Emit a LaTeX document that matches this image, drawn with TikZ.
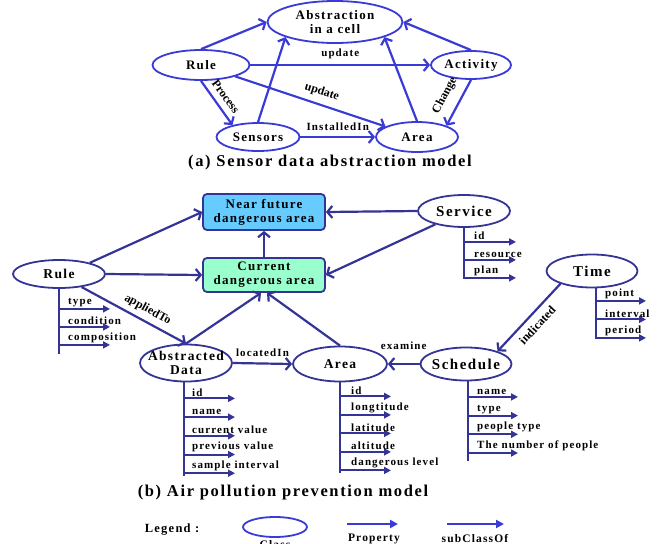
\documentclass[tikz,border=0pt]{standalone}
\usepackage{fontspec}
\setmainfont{Liberation Serif}[LetterSpace=10]
\newfontfamily\slopefont{Liberation Serif}
\usetikzlibrary{shapes.geometric,arrows.meta,calc,positioning}
\definecolor{topblue}{RGB}{58,58,214}
\definecolor{navy}{RGB}{52,52,150}
\definecolor{nearfill}{RGB}{102,204,255}
\definecolor{curfill}{RGB}{153,255,204}
\begin{document}
\begin{tikzpicture}[x = 1pt, y = -1pt,
        every node/.style = {
            font = \bfseries
        },
        clsa/.style = {
            ellipse,
            draw = topblue,
            line width = 1.8pt,
            inner sep = 0pt,
            align = center,
            font = \bfseries\fontsize{13}{14}\selectfont
        },
        cls/.style = {
            ellipse,
            draw = navy,
            line width = 1.8pt,
            inner sep = 0pt,
            align = center,
            font = \bfseries\fontsize{13.5}{14}\selectfont
        },
        big/.style = {
            font = \bfseries\fontsize{15}{16}\selectfont
        },
        zone/.style = {
            draw = navy,
            fill = #1,
            line width = 1.8pt,
            rounded corners = 4pt,
            minimum width = 122pt,
            minimum height = 36pt,
            align = center,
            font = \bfseries\fontsize{13}{14}\selectfont
        },
        rela/.style = {draw = topblue, line width = 2.2pt, -{Straight Barb[length = 5pt, width = 12pt]}},
        rel/.style = {draw = navy, line width = 2.2pt, -{Straight Barb[length = 5pt, width = 12pt]}},
        prop/.style = {draw = navy, line width = 2pt, -{Triangle[length = 7pt, width = 7pt]}},
        propa/.style = {draw = topblue, line width = 2.2pt, -{Triangle[length = 8pt, width = 8pt]}},
        spine/.style = {draw = navy, line width = 2pt},
        elabel/.style = {font = \bfseries\fontsize{11}{12}\selectfont, inner sep = 1pt},
        slabel/.style = {font = \slopefont\bfseries\fontsize{12}{13}\selectfont, inner sep = 1pt, sloped},
        plabel/.style = {font = \bfseries\fontsize{11}{12}\selectfont, inner sep = 1pt, anchor = south west},
        caption/.style = {font = \bfseries\fontsize{16.5}{18}\selectfont}
    ]
    \useasboundingbox (0, 0) rectangle (657, 544);

    % (a) sensor data abstraction
    \node[clsa, minimum width = 135pt, minimum height = 42pt] (cell) at (335, 22) {Abstraction\\in a cell};
    \node[clsa, minimum width = 97pt, minimum height = 30pt] (rulea) at (201, 65) {Rule};
    \node[clsa, minimum width = 80pt, minimum height = 28pt] (activity) at (471, 65) {Activity};
    \node[clsa, minimum width = 83pt, minimum height = 28pt] (sensors) at (258, 137) {Sensors};
    \node[clsa, minimum width = 82pt, minimum height = 30pt] (areaa) at (417, 137) {Area};
    \node[caption] (capa) at (330, 163) {(a) Sensor data abstraction model};

    \draw[rela] (rulea.north) -- (cell.west);
    \draw[rela] (rulea.east) -- node[elabel, above = 4pt] (upda) {update} (activity.west);
    \draw[rela] (rulea) -- node[slabel, above = 5pt, pos = 0.55] (updb) {update} (areaa);
    \draw[rela] (rulea.south) -- node[slabel, above = 5pt] (proc) {Process} (sensors.155);
    \draw[rela] (sensors.north) -- (cell.197);
    \draw[rela] (sensors.east) -- node[elabel, above = 4pt] (inst) {InstalledIn} (areaa.west);
    \draw[rela] (areaa.north) -- (cell.343);
    \draw[rela] (activity.north) -- (cell.east);
    \draw[rela] (activity.south) -- node[slabel, above = 8pt] (chg) {Change} (areaa.21);

    % (b) air pollution prevention
    \node[zone = nearfill] (near) at (264, 212) {Near future\\dangerous area};
    \node[zone = curfill, minimum height = 34pt] (cur) at (264, 275) {Current\\dangerous area};
    \node[cls, minimum width = 92pt, minimum height = 28pt] (ruleb) at (59, 274) {Rule};
    \node[cls, big, minimum width = 92pt, minimum height = 32pt] (service) at (464, 211) {Service};
    \node[cls, big, minimum width = 91pt, minimum height = 33pt] (time) at (592, 271) {Time};
    \node[cls, big, minimum width = 91pt, minimum height = 33pt, inner xsep = -2pt] (schedule) at (466, 364) {Schedule};
    \node[cls, minimum width = 94pt, minimum height = 35pt] (areab) at (340, 364) {Area};
    \node[cls, minimum width = 92pt, minimum height = 37pt, inner xsep = -6pt] (data) at (186, 363) {Abstracted\\Data};
    \node[caption] (capb) at (283, 493) {(b) Air pollution prevention model};

    \coordinate (cur-l) at ($(cur.south) + (-3, 0)$);
    \coordinate (cur-r) at ($(cur.south) + (3, 0)$);
    \draw[rel] (ruleb.20) -- (near.west);
    \draw[rel] (ruleb.east) -- (cur.west);
    \draw[rel] (ruleb.-30) -- node[slabel, above = 4pt, pos = 0.58] (appl) {appliedTo} (data.north);
    \draw[rel] (data.north) -- (cur-l);
    \draw[rel] (data.east) -- node[elabel, above = 5pt] (loc) {locatedIn} (areab.west);
    \draw[rel] (areab.north) -- (cur-r);
    \draw[rel] (cur.north) -- (near.south);
    \draw[rel] (service.west) -- (near.east);
    \draw[rel] (service.205) -- (cur.east);
    \draw[rel] (time.202) -- node[slabel, below = 5pt] (ind) {indicated} (schedule.22);
    \draw[rel] (schedule.west) -- node[elabel, above = 12pt] (exam) {examine} (areab.east);

    % properties
    \foreach \p [count=\i] in {type,condition,composition} {
        \coordinate (ruleb-a\i) at ($(ruleb.south) + (0, 2 + 18*\i)$);
        \coordinate (ruleb-b\i) at ($(ruleb-a\i) + (51, 0)$);
        \draw[prop] (ruleb-a\i) -- (ruleb-b\i);
        \node[plabel] (ruleb-p\i) at ($(ruleb-a\i) + (8, -1)$) {\p};
    }
    \draw[spine] (ruleb.south) -- ($(ruleb-a3) + (0, 9)$);

    \foreach \p [count=\i] in {id,resource,plan} {
        \coordinate (service-a\i) at ($(service.south) + (0, -4 + 18*\i)$);
        \coordinate (service-b\i) at ($(service-a\i) + (52, 0)$);
        \draw[prop] (service-a\i) -- (service-b\i);
        \node[plabel] (service-p\i) at ($(service-a\i) + (9, -1)$) {\p};
    }
    \draw[spine] (service.south) -- ($(service-a3) + (0, 1)$);

    \foreach \p [count=\i] in {point,interval,period} {
        \coordinate (time-a\i) at ($(time.south) + (4, -6 + 18.5*\i)$);
        \coordinate (time-b\i) at ($(time-a\i) + (50, 0)$);
        \draw[prop] (time-a\i) -- (time-b\i);
        \node[plabel] (time-p\i) at ($(time-a\i) + (8, -1)$) {\p};
    }
    \draw[spine] ($(time.south) + (4, 0)$) coordinate (time-top) -- ($(time-a3) + (0, 1)$);

    \foreach \p [count=\i] in {name,type,people type,The number of people} {
        \coordinate (schedule-a\i) at ($(schedule.south) + (2, -3.2 + 18.7*\i)$);
        \coordinate (schedule-b\i) at ($(schedule-a\i) + (50, 0)$);
        \draw[prop] (schedule-a\i) -- (schedule-b\i);
        \node[plabel] (schedule-p\i) at ($(schedule-a\i) + (8, -1)$) {\p};
    }
    \draw[spine] ($(schedule.south) + (2, 0)$) coordinate (schedule-top) -- ($(schedule-a4) + (0, 8)$);

    \foreach \p [count=\i] in {id,longtitude,latitude,altitude,dangerous level} {
        \coordinate (areab-a\i) at ($(areab.south) + (0, -4.5 + 18.5*\i)$);
        \coordinate (areab-b\i) at ($(areab-a\i) + (51, 0)$);
        \draw[prop] (areab-a\i) -- (areab-b\i);
        \node[plabel] (areab-p\i) at ($(areab-a\i) + (10, -1)$) {\p};
    }
    \draw[spine] (areab.south) -- ($(areab-a5) + (0, 3)$);

    \foreach \p [count=\i] in {id,name,current value,previous value,sample interval} {
        \coordinate (data-a\i) at ($(data.south) + (-2, -2.7 + 18.7*\i)$);
        \coordinate (data-b\i) at ($(data-a\i) + (51, 0)$);
        \draw[prop] (data-a\i) -- (data-b\i);
        \node[plabel] (data-p\i) at ($(data-a\i) + (7, -1)$) {\p};
    }
    \draw[spine] ($(data.south) + (-2, 0)$) coordinate (data-top) -- ($(data-a5) + (0, 3)$);

    % legend
    \node[font = \bfseries\fontsize{12.5}{14}\selectfont] (legend) at (172, 530) {Legend :};
    \node[clsa, minimum width = 64pt, minimum height = 20pt] (legcls) at (275, 527) {};
    \node[elabel, font = \bfseries\fontsize{11.5}{12}\selectfont, below = 1pt of legcls] (legcls-t) {Class};
    \coordinate (legp-a) at (347, 524);
    \coordinate (legp-b) at (398, 524);
    \draw[propa] (legp-a) -- (legp-b);
    \node[elabel, font = \bfseries\fontsize{11.5}{12}\selectfont] (legp-t) at (374, 539) {Property};
    \coordinate (legs-a) at (447, 524);
    \coordinate (legs-b) at (504, 524);
    \draw[propa] (legs-a) -- (legs-b);
    \node[elabel, font = \bfseries\fontsize{11.5}{12}\selectfont] (legs-t) at (475, 539) {subClassOf};
\end{tikzpicture}
\end{document}
